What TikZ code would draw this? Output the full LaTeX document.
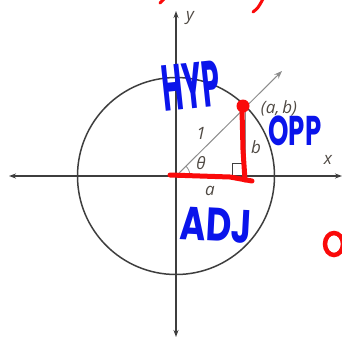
\documentclass[tikz,border=0pt]{standalone}
\usepackage{fontspec}
\setmainfont{Open Sans}
\newfontfamily\handfont{Poppins}
\usetikzlibrary{arrows.meta}
\definecolor{AxisGray}{RGB}{62,62,62}
\definecolor{RayGray}{RGB}{140,140,140}
\definecolor{LabelGray}{RGB}{80,74,68}
\definecolor{PenBlue}{RGB}{10,20,235}
\definecolor{PenRed}{RGB}{250,10,10}

\begin{document}
\begin{tikzpicture}[x=1pt, y=-1pt,
    axisline/.style={{Stealth[length=7pt,width=5pt]}-{Stealth[length=7pt,width=5pt]}, line width=1.2pt, draw=AxisGray},
    rayline/.style={-{Stealth[length=8pt,width=6pt]}, line width=1pt, draw=RayGray},
    lbl/.style={text=LabelGray, font=\fontsize{17}{17}\selectfont\itshape, inner sep=1pt},
    hand/.style={text=PenBlue, font=\handfont\bfseries\fontsize{26}{26}\selectfont, inner sep=0pt, text depth=0pt},
    redpen/.style={draw=PenRed, line width=5pt, line cap=round, line join=round}
  ]
    \useasboundingbox (0,0) rectangle (342,338);
    \coordinate (O) at (176,176);
    \coordinate (L) at (9,176);
    \coordinate (R) at (342,176);
    \coordinate (T) at (176,11);
    \coordinate (B) at (176,337);
    \coordinate (tip) at (282,71);
    \coordinate (P) at (245.6,106.4);
    \coordinate (F) at (245.6,176);

    \draw[line width=1.5pt, draw=AxisGray] (O) circle[radius=98.5];
    \draw[axisline] (L) -- (R);
    \draw[axisline] (B) -- (T);
    \draw[rayline] (O) -- (tip);
    \draw[line width=1pt, draw=RayGray] (P) -- (F);
    \draw[line width=0.8pt, draw=AxisGray] (F) ++(-13,0) -- ++(0,-13) -- ++(13,0);
    \draw[line width=0.8pt, draw=RayGray] (O) ++(14,0) arc[start angle=0, end angle=-45, radius=14];

    \node[lbl] (ylbl) at (190,18) {y};
    \node[lbl] (xlbl) at (328,160) {x};
    \node[lbl] (ablbl) at (279,108) {(a,\,b)};
    \node[lbl] (onelbl) at (201,133) {1};
    \node[lbl] (blbl) at (256,147) {b};
    \node[lbl] (thlbl) at (201,163) {θ};
    \node[lbl] (albl) at (210,191) {a};

    % pen marks
    \draw[redpen] (170,175) -- (230,177) -- (252,181);
    \draw[redpen] (242,110) -- (243,150) -- (245,180);
    \fill[PenRed] (243,106) circle[radius=6.5];
    \draw[draw=PenRed, line width=3pt, line cap=round] (160,3) -- (164,-1);
    \draw[draw=PenRed, line width=3pt, line cap=round] (253,12) .. controls (258,8) .. (263,-1);
    \draw[draw=PenRed, line width=4.5pt] (334,244) ellipse[x radius=9, y radius=11];

    \node[hand, rotate=6, xscale=1.1, yscale=2.5] (hyp) at (191,86) {HYP};
    \node[hand, xscale=1.0, yscale=1.6] (opp) at (295,131) {OPP};
    \node[hand, rotate=-3, xscale=1.35, yscale=1.8] (adj) at (216,225) {ADJ};
  \end{tikzpicture}
\end{document}
